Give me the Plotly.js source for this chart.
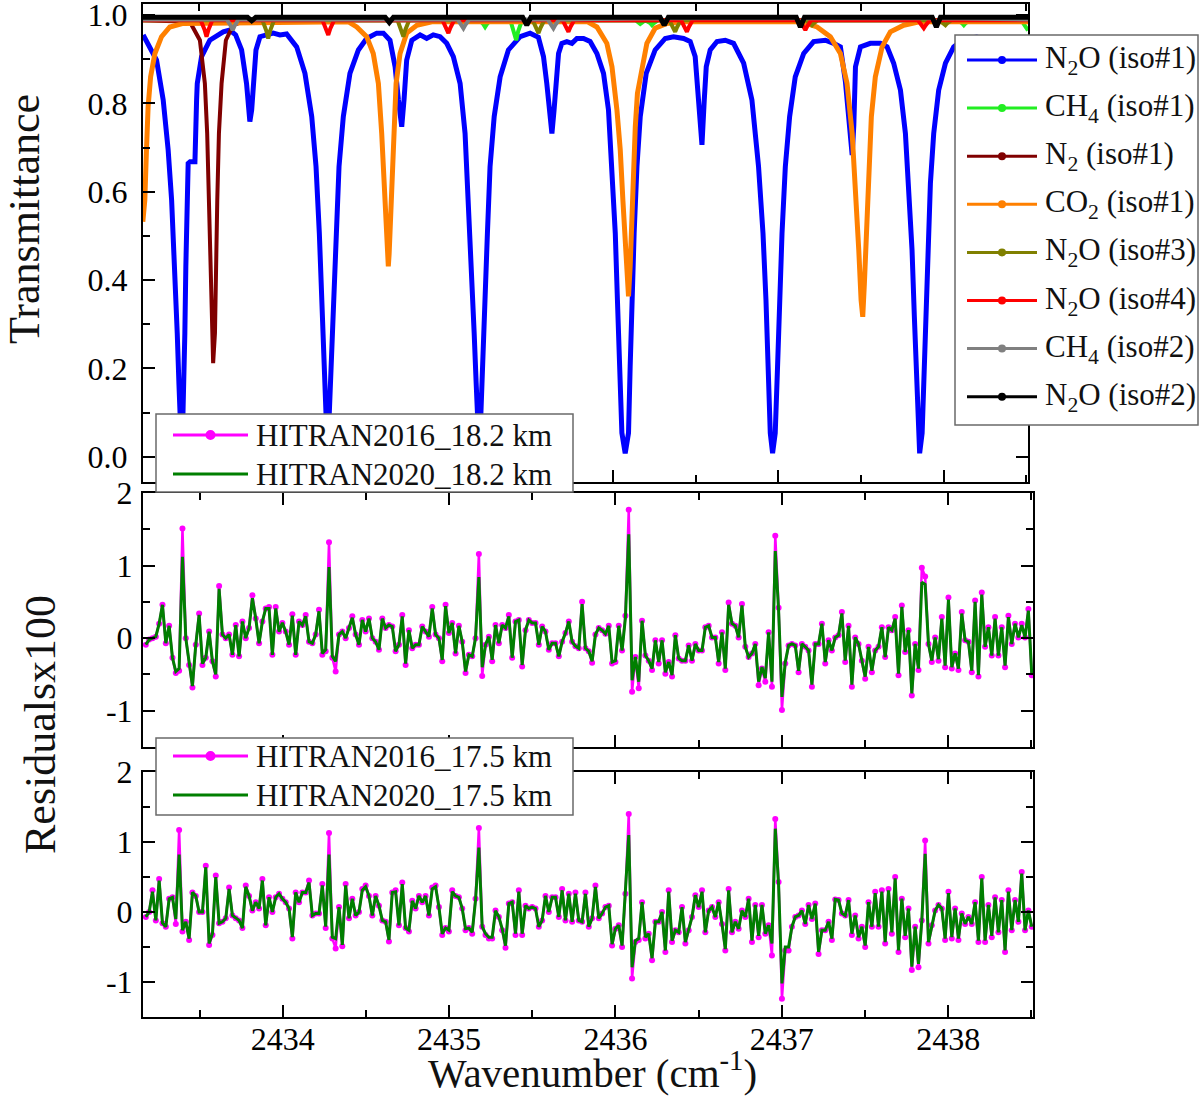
<!DOCTYPE html>
<html>
<head>
<meta charset="utf-8">
<script src="https://cdn.plot.ly/plotly-3.0.1.min.js"></script>
<style>
  html, body { margin: 0; padding: 0; background: #ffffff; }
  #chart { width: 1200px; height: 1097px; }
</style>
</head>
<body>
<div id="chart"></div>
<script>
// Transmittance of the species in the window plus the fit residuals at two
// tangent heights, HITRAN2016 vs HITRAN2020. Values.

// --- transmittance (top panel) ---------------------------------------------

const n2o1Wn = [
  2433.161, 2433.242, 2433.282, 2433.312, 2433.333, 2433.353, 2433.367, 2433.377, 2433.383, 2433.388,
  2433.393, 2433.398, 2433.403, 2433.413, 2433.419, 2433.427, 2433.433, 2433.445, 2433.474, 2433.484,
  2433.488, 2433.514, 2433.564, 2433.645, 2433.685,
  2433.72, 2433.756, 2433.786, 2433.796, 2433.806, 2433.817, 2433.826, 2433.843, 2433.867, 2433.907,
  2433.947, 2433.988, 2434.028,
  2434.089, 2434.139, 2434.180, 2434.206, 2434.226, 2434.242, 2434.254, 2434.264, 2434.270, 2434.275,
  2434.280, 2434.286, 2434.296, 2434.310, 2434.325, 2434.345, 2434.371, 2434.411, 2434.462, 2434.512,
  2434.573, 2434.613,
  2434.653, 2434.684, 2434.704, 2434.724, 2434.738, 2434.754, 2434.785, 2434.835, 2434.875, 2434.915,
  2434.956, 2434.996,
  2435.036, 2435.077, 2435.107, 2435.127, 2435.148, 2435.162, 2435.174, 2435.182, 2435.187, 2435.192,
  2435.197, 2435.202, 2435.214, 2435.228, 2435.242, 2435.258, 2435.283, 2435.319, 2435.369, 2435.440,
  2435.500, 2435.550,
  2435.581, 2435.601, 2435.617, 2435.632, 2435.645, 2435.658, 2435.672, 2435.692, 2435.722, 2435.753,
  2435.783, 2435.823, 2435.863,
  2435.904, 2435.944, 2435.974, 2435.995, 2436.015, 2436.028, 2436.041, 2436.055, 2436.075, 2436.095,
  2436.105, 2436.116, 2436.129, 2436.146, 2436.166, 2436.202, 2436.256, 2436.317, 2436.367, 2436.428,
  2436.468,
  2436.498, 2436.518, 2436.539, 2436.553, 2436.565, 2436.589, 2436.630, 2436.680, 2436.730,
  2436.791, 2436.841, 2436.881, 2436.908, 2436.926, 2436.940, 2436.952, 2436.966, 2436.982, 2436.996,
  2437.008, 2437.023, 2437.043, 2437.069, 2437.103, 2437.154, 2437.214, 2437.285, 2437.335, 2437.376,
  2437.406, 2437.426, 2437.447, 2437.457, 2437.467, 2437.497, 2437.557, 2437.618, 2437.658,
  2437.698, 2437.739, 2437.769, 2437.789, 2437.809, 2437.823, 2437.835, 2437.846, 2437.855, 2437.870,
  2437.880, 2437.890, 2437.904, 2437.920, 2437.940, 2437.970, 2438.011, 2438.061, 2438.12, 2438.20,
  2438.30, 2438.40, 2438.51,
];
const n2o1T = [
  0.955, 0.898, 0.808, 0.695, 0.581, 0.431, 0.280, 0.167, 0.099, 0.04,
  0.01, 0.04, 0.099, 0.280, 0.431, 0.581, 0.664, 0.668, 0.668, 0.808,
  0.845, 0.906, 0.943, 0.962, 0.966,
  0.955, 0.921, 0.845, 0.793, 0.759, 0.785, 0.845, 0.921, 0.951, 0.955,
  0.959, 0.955, 0.957,
  0.928, 0.868, 0.770, 0.657, 0.506, 0.355, 0.204, 0.099, 0.04, 0.01,
  0.04, 0.099, 0.204, 0.355, 0.506, 0.657, 0.770, 0.868, 0.921, 0.947,
  0.959, 0.959,
  0.943, 0.883, 0.808, 0.747, 0.808, 0.898, 0.943, 0.955, 0.947, 0.955,
  0.951, 0.936,
  0.906, 0.845, 0.732, 0.581, 0.431, 0.280, 0.167, 0.099, 0.04, 0.01,
  0.04, 0.099, 0.204, 0.355, 0.506, 0.657, 0.770, 0.860, 0.921, 0.951,
  0.959, 0.950,
  0.906, 0.845, 0.785, 0.732, 0.785, 0.860, 0.913, 0.936, 0.940, 0.936,
  0.947, 0.947, 0.940,
  0.913, 0.868, 0.785, 0.657, 0.506, 0.355, 0.204, 0.054, 0.008, 0.054,
  0.204, 0.355, 0.506, 0.657, 0.770, 0.868, 0.921, 0.947, 0.951, 0.947,
  0.940,
  0.906, 0.808, 0.706, 0.808, 0.883, 0.921, 0.940, 0.943, 0.936,
  0.891, 0.808, 0.657, 0.506, 0.355, 0.204, 0.054, 0.008, 0.054, 0.204,
  0.355, 0.506, 0.657, 0.770, 0.860, 0.913, 0.940, 0.943, 0.936, 0.928,
  0.85, 0.77, 0.683, 0.75, 0.883, 0.928, 0.936, 0.936, 0.928,
  0.891, 0.830, 0.732, 0.619, 0.468, 0.317, 0.167, 0.054, 0.008, 0.054,
  0.167, 0.317, 0.468, 0.619, 0.732, 0.830, 0.891, 0.928, 0.945, 0.95,
  0.94, 0.93, 0.92,
];

const ch4aWn = [
  2433.159, 2435.193, 2435.216, 2435.228, 2435.240, 2435.263, 2435.381, 2435.404, 2435.416, 2435.428,
  2435.451, 2436.140, 2436.166, 2436.195, 2436.225, 2436.237, 2436.249, 2436.272, 2438.087, 2438.110,
  2438.122, 2438.134, 2438.157, 2438.470, 2438.51,
];
const ch4aT = [
  0.988, 0.988, 0.980, 0.973, 0.980, 0.988, 0.988, 0.963, 0.943, 0.963,
  0.988, 0.988, 0.980, 0.988, 0.982, 0.977, 0.982, 0.988, 0.988, 0.982,
  0.977, 0.982, 0.988, 0.988, 0.965,
];

const n2Wn = [
  2433.159, 2433.443, 2433.504, 2433.534, 2433.548, 2433.560, 2433.570, 2433.578, 2433.584, 2433.595,
  2433.601, 2433.609, 2433.619, 2433.635, 2433.661, 2433.705, 2433.786, 2438.51,
];
const n2T = [
  0.988, 0.985, 0.943, 0.845, 0.732, 0.581, 0.431, 0.280, 0.212, 0.280,
  0.431, 0.581, 0.732, 0.845, 0.943, 0.977, 0.988, 0.988,
];

const co2Wn = [
  2433.159, 2433.171, 2433.181, 2433.191, 2433.206, 2433.232, 2433.272, 2433.322, 2433.403, 2434.40,
  2434.452, 2434.512, 2434.552, 2434.583, 2434.603, 2434.617, 2434.629, 2434.637, 2434.643, 2434.648,
  2434.653, 2434.664, 2434.673, 2434.690, 2434.714, 2434.754, 2434.815, 2434.913,
  2435.845, 2435.904, 2435.964, 2435.995, 2436.025, 2436.045, 2436.061, 2436.075, 2436.089, 2436.095,
  2436.105, 2436.116, 2436.125, 2436.136, 2436.149, 2436.176, 2436.206, 2436.256, 2436.327, 2436.408,
  2437.134, 2437.235, 2437.315, 2437.376, 2437.416, 2437.447, 2437.467, 2437.487, 2437.501, 2437.511,
  2437.521, 2437.533, 2437.547, 2437.563, 2437.587, 2437.628, 2437.678, 2437.759, 2437.860, 2438.51,
];
const co2T = [
  0.532, 0.581, 0.695, 0.793, 0.860, 0.913, 0.951, 0.973, 0.981, 0.985,
  0.973, 0.951, 0.913, 0.845, 0.732, 0.619, 0.506, 0.46, 0.431, 0.46,
  0.506, 0.619, 0.732, 0.845, 0.913, 0.959, 0.977, 0.985,
  0.985, 0.973, 0.936, 0.883, 0.785, 0.695, 0.581, 0.468, 0.393, 0.363,
  0.431, 0.544, 0.657, 0.747, 0.823, 0.883, 0.936, 0.970, 0.981, 0.985,
  0.985, 0.973, 0.951, 0.913, 0.845, 0.732, 0.619, 0.468, 0.355, 0.317,
  0.393, 0.506, 0.657, 0.770, 0.860, 0.928, 0.962, 0.977, 0.985, 0.985,
];

const n2o3Wn = [
  2433.159, 2433.882, 2433.905, 2433.917, 2433.929, 2433.952, 2434.699, 2434.722, 2434.734, 2434.746,
  2434.769, 2435.516, 2435.539, 2435.551, 2435.563, 2435.586, 2436.342, 2436.365, 2436.377, 2436.389,
  2436.412, 2437.169, 2437.192, 2437.204, 2437.216, 2437.239, 2437.976, 2437.999, 2438.011, 2438.023,
  2438.046, 2438.51,
];
const n2o3T = [
  0.988, 0.988, 0.965, 0.947, 0.965, 0.988, 0.988, 0.967, 0.951, 0.967,
  0.988, 0.988, 0.971, 0.959, 0.971, 0.988, 0.988, 0.973, 0.962, 0.973,
  0.988, 0.988, 0.982, 0.977, 0.982, 0.988, 0.988, 0.982, 0.977, 0.982,
  0.988, 0.988,
];

const n2o4Wn = [
  2433.159, 2433.509, 2433.532, 2433.544, 2433.556, 2433.579, 2434.245, 2434.268, 2434.280, 2434.292,
  2434.315, 2434.971, 2434.994, 2435.006, 2435.018, 2435.041, 2435.697, 2435.720, 2435.732, 2435.744,
  2435.767, 2436.413, 2436.436, 2436.448, 2436.460, 2436.483, 2437.129, 2437.152, 2437.164, 2437.176,
  2437.199, 2437.845, 2437.868, 2437.880, 2437.892, 2437.915, 2438.51,
];
const n2o4T = [
  0.988, 0.988, 0.967, 0.951, 0.967, 0.988, 0.988, 0.969, 0.955, 0.969,
  0.988, 0.988, 0.971, 0.959, 0.971, 0.988, 0.988, 0.973, 0.962, 0.973,
  0.988, 0.988, 0.973, 0.962, 0.973, 0.988, 0.988, 0.975, 0.966, 0.975,
  0.988, 0.988, 0.977, 0.970, 0.977, 0.988, 0.988,
];

const ch4bWn = [
  2433.159, 2433.667, 2433.690, 2433.702, 2433.714, 2433.737, 2435.062, 2435.085, 2435.097, 2435.109,
  2435.132, 2435.606, 2435.629, 2435.641, 2435.653, 2435.676, 2436.286, 2436.311, 2436.336, 2437.109,
  2437.134, 2437.159, 2437.931, 2437.956, 2437.981, 2438.51,
];
const ch4bT = [
  0.990, 0.990, 0.976, 0.966, 0.976, 0.990, 0.990, 0.978, 0.970, 0.978,
  0.990, 0.990, 0.978, 0.970, 0.978, 0.990, 0.993, 0.983, 0.993, 0.993,
  0.983, 0.993, 0.993, 0.983, 0.993, 0.990,
];

const n2o2Wn = [
  2433.159, 2433.792, 2433.817, 2433.842, 2434.624, 2434.649, 2434.674, 2435.455, 2435.480, 2435.505,
  2436.286, 2436.311, 2436.336, 2437.109, 2437.134, 2437.159, 2437.931, 2437.956, 2437.981, 2438.51,
];
const n2o2T = [
  0.995, 0.995, 0.987, 0.995, 0.995, 0.983, 0.995, 0.995, 0.977, 0.995,
  0.995, 0.977, 0.995, 0.995, 0.973, 0.995, 0.995, 0.973, 0.995, 0.995,
];

const speciesNames = [
  'N<sub>2</sub>O (iso#1)', 'CH<sub>4</sub> (iso#1)', 'N<sub>2</sub> (iso#1)', 'CO<sub>2</sub> (iso#1)',
  'N<sub>2</sub>O (iso#3)', 'N<sub>2</sub>O (iso#4)', 'CH<sub>4</sub> (iso#2)', 'N<sub>2</sub>O (iso#2)',
];
const speciesWn = [n2o1Wn, ch4aWn, n2Wn, co2Wn, n2o3Wn, n2o4Wn, ch4bWn, n2o2Wn];
const speciesT = [n2o1T, ch4aT, n2T, co2T, n2o3T, n2o4T, ch4bT, n2o2T];

// --- residuals x100 (two lower panels), on the spectral grid ---------------

const RES_X0 = 2433.177;
const RES_DX = 0.02002;

const res2016_182 = [
  -0.09, -0.02, 0.0, 0.02, 0.2, 0.46, -0.07, 0.17, -0.27, -0.48,
  -0.45, 1.51, 0.0, -0.37, -0.68, -0.09, 0.34, -0.37, -0.27, 0.09,
  -0.32, -0.53, 0.72, 0.05, 0.0, 0.05, -0.23, 0.18, -0.25, 0.23,
  0.0, 0.14, 0.59, 0.27, -0.07, 0.23, 0.41, 0.43, -0.23, 0.43,
  0.09, 0.21, 0.09, -0.09, 0.33, -0.23, 0.23, 0.18, 0.32, -0.05,
  -0.07, 0.05, 0.39, -0.23, -0.18, 1.32, -0.27, -0.46, 0.05, 0.09,
  0.0, 0.14, 0.30, 0.05, -0.09, 0.25, 0.09, 0.27, 0.0, -0.05,
  -0.16, 0.27, 0.14, 0.18, 0.16, -0.18, -0.09, 0.32, -0.37, 0.11,
  -0.14, -0.09, -0.09, 0.16, 0.09, 0.02, 0.43, 0.05, 0.0, -0.32,
  0.46, 0.07, 0.21, -0.21, 0.17, -0.05, -0.48, -0.23, -0.25, 0.0,
  1.16, -0.52, -0.09, 0.02, -0.32, 0.18, -0.07, 0.18, 0.14, 0.32,
  -0.27, 0.23, 0.25, -0.39, 0.11, 0.25, 0.21, 0.21, -0.09, 0.16,
  0.09, -0.16, -0.07, -0.07, -0.25, -0.05, 0.07, 0.23, -0.05, -0.11,
  -0.14, 0.50, -0.14, -0.18, -0.34, 0.05, 0.14, 0.11, 0.06, 0.17,
  -0.35, -0.33, 0.17, -0.17, 0.31, 1.77, -0.74, -0.26, -0.69, 0.24,
  -0.24, -0.31, -0.44, -0.03, -0.35, -0.03, -0.49, -0.33, -0.53, 0.04,
  -0.28, -0.31, -0.31, -0.10, -0.31, -0.08, -0.17, -0.17, 0.15, 0.17,
  0.01, 0.01, -0.35, 0.08, -0.44, 0.49, 0.20, 0.17, 0.01, 0.47,
  -0.12, -0.26, -0.21, -0.08, -0.65, -0.42, -0.60, 0.08, -0.67, 1.41,
  0.42, -0.99, -0.35, -0.10, -0.08, -0.10, -0.47, -0.08, -0.12, -0.17,
  -0.67, -0.08, -0.08, 0.20, -0.35, -0.03, -0.17, 0.01, 0.04, 0.36,
  -0.33, 0.17, -0.67, 0.01, -0.08, -0.31, -0.56, -0.12, -0.47, -0.17,
  -0.12, 0.15, -0.26, 0.15, 0.11, 0.29, -0.51, 0.45, -0.19, 0.11,
  -0.79, -0.08, -0.44, 0.97, 0.85, -0.08, -0.33, 0.01, -0.31, 0.29,
  -0.40, 0.56, -0.42, -0.21, -0.44, 0.36, -0.03, -0.05, -0.47, 0.52,
  -0.53, 0.63, -0.12, 0.15, -0.24, 0.29, -0.24, 0.15, -0.40, 0.31,
  -0.08, 0.20, 0.01, 0.20, 0.01, 0.40, -0.51,
];
const res2020_182 = [
  -0.09, -0.02, 0.0, 0.02, 0.2, 0.46, -0.07, 0.17, -0.27, -0.46,
  -0.42, 1.12, 0.0, -0.35, -0.66, -0.09, 0.32, -0.35, -0.27, 0.09,
  -0.32, -0.50, 0.68, 0.05, 0.0, 0.05, -0.23, 0.18, -0.25, 0.23,
  0.0, 0.14, 0.55, 0.27, -0.07, 0.23, 0.41, 0.41, -0.23, 0.41,
  0.09, 0.21, 0.09, -0.09, 0.31, -0.23, 0.23, 0.18, 0.30, -0.05,
  -0.07, 0.05, 0.37, -0.21, -0.16, 0.98, -0.25, -0.32, 0.05, 0.09,
  0.0, 0.14, 0.28, 0.05, -0.09, 0.25, 0.09, 0.27, 0.0, -0.05,
  -0.16, 0.27, 0.14, 0.18, 0.16, -0.18, -0.09, 0.30, -0.35, 0.11,
  -0.14, -0.09, -0.09, 0.16, 0.09, 0.02, 0.41, 0.05, 0.0, -0.30,
  0.44, 0.07, 0.21, -0.21, 0.17, -0.05, -0.46, -0.23, -0.25, 0.0,
  0.84, -0.40, -0.09, 0.02, -0.30, 0.18, -0.07, 0.18, 0.14, 0.30,
  -0.27, 0.23, 0.25, -0.37, 0.11, 0.25, 0.21, 0.21, -0.09, 0.16,
  0.09, -0.16, -0.07, -0.07, -0.25, -0.05, 0.07, 0.23, -0.05, -0.11,
  -0.14, 0.47, -0.14, -0.18, -0.32, 0.05, 0.14, 0.11, 0.06, 0.17,
  -0.33, -0.31, 0.17, -0.17, 0.28, 1.43, -0.58, -0.26, -0.60, 0.24,
  -0.24, -0.31, -0.42, -0.03, -0.33, -0.03, -0.47, -0.33, -0.51, 0.04,
  -0.28, -0.31, -0.31, -0.10, -0.31, -0.08, -0.17, -0.17, 0.15, 0.17,
  0.01, 0.01, -0.33, 0.08, -0.42, 0.46, 0.20, 0.17, 0.01, 0.45,
  -0.12, -0.26, -0.21, -0.08, -0.60, -0.40, -0.55, 0.08, -0.60, 1.20,
  0.38, -0.81, -0.33, -0.10, -0.08, -0.10, -0.45, -0.08, -0.12, -0.17,
  -0.64, -0.08, -0.08, 0.20, -0.33, -0.03, -0.17, 0.01, 0.04, 0.34,
  -0.31, 0.17, -0.64, 0.01, -0.08, -0.31, -0.53, -0.12, -0.45, -0.17,
  -0.12, 0.15, -0.26, 0.15, 0.11, 0.27, -0.49, 0.43, -0.19, 0.11,
  -0.76, -0.08, -0.42, 0.77, 0.74, -0.08, -0.31, 0.01, -0.29, 0.27,
  -0.38, 0.53, -0.40, -0.21, -0.42, 0.34, -0.03, -0.05, -0.45, 0.50,
  -0.51, 0.60, -0.12, 0.15, -0.24, 0.27, -0.24, 0.15, -0.38, 0.29,
  -0.08, 0.20, 0.01, 0.18, 0.01, 0.38, -0.49,
];

const res2016_175 = [
  -0.07, 0.0, 0.31, -0.12, 0.47, -0.16, -0.21, 0.19, 0.21, -0.17,
  1.17, -0.28, -0.14, -0.40, 0.28, 0.23, 0.0, 0.0, 0.66, -0.47,
  -0.33, 0.52, -0.16, -0.14, -0.09, 0.35, -0.05, -0.09, -0.12, -0.23,
  0.38, 0.23, 0.02, 0.14, 0.05, 0.47, -0.19, 0.21, 0.0, 0.21,
  0.26, 0.19, 0.14, 0.05, -0.38, 0.28, 0.14, 0.28, 0.28, 0.45,
  -0.05, -0.02, -0.02, 0.40, -0.23, 1.13, -0.38, -0.52, 0.07, -0.49,
  0.40, -0.09, 0.19, -0.05, 0.0, 0.33, 0.38, 0.23, -0.05, 0.23,
  0.09, -0.12, -0.14, -0.42, 0.28, 0.31, -0.19, 0.42, -0.23, -0.28,
  0.16, 0.05, 0.23, 0.14, 0.23, -0.05, 0.35, 0.38, 0.07, -0.33,
  -0.23, -0.28, 0.31, 0.23, 0.21, 0.05, -0.26, -0.23, -0.31, 0.19,
  1.20, -0.21, -0.33, -0.38, -0.38, 0.02, -0.07, -0.26, -0.51, 0.12,
  0.14, -0.33, 0.31, -0.33, 0.09, 0.05, 0.07, 0.05, -0.21, -0.12,
  0.23, 0.0, 0.21, 0.21, -0.07, 0.33, -0.12, 0.26, -0.14, 0.28,
  -0.12, -0.14, 0.28, -0.21, -0.09, 0.38, -0.09, -0.02, 0.07, 0.09,
  -0.48, -0.24, -0.19, -0.50, 0.26, 1.40, -0.95, -0.43, -0.40, 0.14,
  -0.38, -0.31, -0.69, -0.14, -0.14, 0.0, -0.57, 0.31, -0.43, -0.26,
  -0.29, 0.07, -0.45, -0.26, -0.07, 0.24, 0.07, 0.31, -0.29, 0.02,
  0.07, -0.07, 0.14, -0.17, -0.55, 0.33, -0.29, -0.14, -0.24, 0.02,
  -0.07, 0.19, -0.43, 0.10, -0.36, 0.10, -0.31, -0.19, -0.62, 1.33,
  0.43, -1.24, -0.55, -0.55, -0.21, -0.07, -0.05, 0.02, -0.17, 0.10,
  -0.10, 0.12, -0.60, -0.26, -0.26, -0.14, -0.40, 0.18, 0.17, -0.02,
  -0.05, 0.17, -0.33, -0.05, -0.38, -0.21, -0.50, 0.14, -0.21, 0.29,
  -0.21, 0.31, -0.45, 0.33, -0.31, 0.50, -0.57, 0.19, -0.36, 0.05,
  -0.83, -0.21, -0.79, -0.12, 1.02, -0.45, -0.19, 0.02, 0.10, 0.05,
  -0.40, 0.29, -0.38, 0.05, -0.40, -0.02, -0.17, -0.07, -0.17, 0.14,
  -0.43, 0.50, -0.43, 0.10, -0.36, 0.21, -0.29, 0.17, -0.57, 0.31,
  -0.26, 0.17, -0.14, 0.57, -0.26, 0.02, -0.21,
];
const res2020_175 = [
  -0.07, 0.0, 0.29, -0.12, 0.45, -0.16, -0.21, 0.19, 0.21, -0.10,
  0.82, -0.26, -0.14, -0.38, 0.28, 0.23, 0.0, 0.0, 0.64, -0.45,
  -0.31, 0.50, -0.16, -0.14, -0.09, 0.33, -0.05, -0.09, -0.12, -0.23,
  0.36, 0.23, 0.02, 0.14, 0.05, 0.45, -0.19, 0.21, 0.0, 0.21,
  0.26, 0.19, 0.14, 0.05, -0.36, 0.28, 0.14, 0.28, 0.28, 0.42,
  -0.05, -0.02, -0.02, 0.38, -0.21, 0.82, -0.36, -0.38, 0.07, -0.47,
  0.38, -0.09, 0.19, -0.05, 0.0, 0.31, 0.36, 0.23, -0.05, 0.23,
  0.09, -0.12, -0.14, -0.40, 0.28, 0.29, -0.19, 0.40, -0.23, -0.26,
  0.16, 0.05, 0.23, 0.14, 0.23, -0.05, 0.33, 0.36, 0.07, -0.31,
  -0.23, -0.26, 0.29, 0.23, 0.21, 0.05, -0.24, -0.23, -0.29, 0.17,
  0.92, -0.21, -0.31, -0.36, -0.36, 0.02, -0.07, -0.24, -0.48, 0.12,
  0.14, -0.31, 0.29, -0.31, 0.09, 0.05, 0.07, 0.05, -0.21, -0.12,
  0.23, 0.0, 0.21, 0.21, -0.07, 0.31, -0.12, 0.26, -0.14, 0.26,
  -0.12, -0.14, 0.26, -0.21, -0.09, 0.36, -0.09, -0.02, 0.07, 0.09,
  -0.46, -0.24, -0.19, -0.48, 0.24, 1.10, -0.79, -0.41, -0.38, 0.14,
  -0.36, -0.31, -0.66, -0.14, -0.14, 0.0, -0.55, 0.29, -0.41, -0.26,
  -0.29, 0.07, -0.43, -0.26, -0.07, 0.24, 0.07, 0.29, -0.29, 0.02,
  0.07, -0.07, 0.14, -0.17, -0.53, 0.31, -0.29, -0.14, -0.24, 0.02,
  -0.07, 0.19, -0.41, 0.10, -0.34, 0.10, -0.31, -0.19, -0.45, 1.19,
  0.38, -1.02, -0.50, -0.50, -0.21, -0.07, -0.05, 0.02, -0.17, 0.10,
  -0.10, 0.12, -0.57, -0.26, -0.26, -0.14, -0.38, 0.18, 0.17, -0.02,
  -0.05, 0.17, -0.31, -0.05, -0.36, -0.21, -0.48, 0.14, -0.21, 0.27,
  -0.21, 0.29, -0.43, 0.31, -0.29, 0.48, -0.55, 0.19, -0.34, 0.05,
  -0.78, -0.21, -0.74, -0.12, 0.83, -0.43, -0.19, 0.02, 0.10, 0.05,
  -0.38, 0.27, -0.36, 0.05, -0.38, -0.02, -0.17, -0.07, -0.17, 0.14,
  -0.41, 0.48, -0.41, 0.10, -0.34, 0.21, -0.29, 0.17, -0.55, 0.29,
  -0.26, 0.17, -0.14, 0.55, -0.26, 0.02, -0.21,
];

const residualNames182 = ['HITRAN2016_18.2 km', 'HITRAN2020_18.2 km'];
const residualNames175 = ['HITRAN2016_17.5 km', 'HITRAN2020_17.5 km'];

// --- styling -------------------------------------------------------------

const W = 1200;
const H = 1097;
const FONT = 'Liberation Serif, Times New Roman, serif';

const SPECIES_COLORS = ['#0000ff', '#22ee22', '#800000', '#ff8000', '#808000', '#ff0000', '#808080', '#000000'];
const SPECIES_WIDTHS = [5, 4, 4, 5, 4, 4, 4, 5];
const HITRAN16 = '#ff00ff';
const HITRAN20 = '#007f00';

// pixel -> paper
const px = (x) => x / W;
const py = (y) => 1 - y / H;

const X_RANGE = [2433.16, 2438.51];

function xAxis(domainRight, showLabels, anchor) {
  return {
    domain: [px(143), px(domainRight)],
    anchor,
    range: X_RANGE,
    tick0: 2434,
    dtick: 1,
    ticks: 'inside',
    ticklen: 12,
    tickwidth: 2,
    tickcolor: '#000',
    minor: { ticks: 'inside', ticklen: 7, tickwidth: 2, tickcolor: '#000', dtick: 0.5, tick0: 2434 },
    showline: true,
    linecolor: '#000',
    linewidth: 2,
    mirror: 'ticks',
    showgrid: false,
    zeroline: false,
    showticklabels: showLabels,
    ticklabelstandoff: -7,
    tickfont: { family: FONT, size: 32, color: '#000' },
  };
}

function residualYAxis(top, bottom, anchor) {
  return {
    domain: [py(bottom), py(top)],
    anchor,
    range: [-1.5, 2],
    tickmode: 'array',
    tickvals: [-1, 0, 1, 2],
    ticktext: ['-1', '0', '1', '2'],
    ticks: 'inside',
    ticklen: 12,
    tickwidth: 2,
    tickcolor: '#000',
    minor: {
      ticks: 'inside', ticklen: 7, tickwidth: 2, tickcolor: '#000',
      tickmode: 'array', tickvals: [-1.5, -0.5, 0.5, 1.5],
    },
    showline: true,
    linecolor: '#000',
    linewidth: 2,
    mirror: 'ticks',
    showgrid: false,
    zeroline: false,
    ticklabelstandoff: 2,
    ticklabeloverflow: 'allow',
    tickfont: { family: FONT, size: 32, color: '#000' },
  };
}

// --- traces --------------------------------------------------------------

const traces = [];

speciesNames.forEach((name, i) => {
  traces.push({
    x: speciesWn[i],
    y: speciesT[i],
    name,
    mode: 'lines',
    xaxis: 'x3',
    yaxis: 'y3',
    line: { color: SPECIES_COLORS[i], width: SPECIES_WIDTHS[i] },
  });
});

function residualPair(v16, v20, names, axisSuffix) {
  return [
    {
      y: v16, x0: RES_X0, dx: RES_DX, name: names[0],
      mode: 'lines+markers',
      xaxis: 'x' + axisSuffix, yaxis: 'y' + axisSuffix,
      line: { color: HITRAN16, width: 2.5 },
      marker: { color: HITRAN16, size: 6 },
    },
    {
      y: v20, x0: RES_X0, dx: RES_DX, name: names[1],
      mode: 'lines',
      xaxis: 'x' + axisSuffix, yaxis: 'y' + axisSuffix,
      line: { color: HITRAN20, width: 3 },
    },
  ];
}

traces.push(...residualPair(res2016_182, res2020_182, residualNames182, '2'));
traces.push(...residualPair(res2016_175, res2020_175, residualNames175, ''));

// --- hand-drawn legends (Origin style: long sample line, dot in the middle) --

const shapes = [];
const annotations = [];

function legendBox(x0, y0, x1, y1) {
  shapes.push({
    type: 'rect', xref: 'paper', yref: 'paper', layer: 'above',
    x0: px(x0), x1: px(x1), y0: py(y1), y1: py(y0),
    fillcolor: '#ffffff', line: { color: '#6a6a6a', width: 1.5 },
  });
}

function legendRow(yc, lineX0, lineX1, textX, color, width, dot, label) {
  shapes.push({
    type: 'line', xref: 'paper', yref: 'paper', layer: 'above',
    x0: px(lineX0), x1: px(lineX1), y0: py(yc), y1: py(yc),
    line: { color, width },
  });
  if (dot) {
    const xm = (lineX0 + lineX1) / 2;
    shapes.push({
      type: 'circle', xref: 'paper', yref: 'paper', layer: 'above',
      x0: px(xm - dot), x1: px(xm + dot), y0: py(yc + dot), y1: py(yc - dot),
      fillcolor: color, line: { color, width: 0 },
    });
  }
  annotations.push({
    xref: 'paper', yref: 'paper', x: px(textX), y: py(yc),
    xanchor: 'left', yanchor: 'middle', showarrow: false,
    text: label, font: { family: FONT, size: 31, color: '#111' },
  });
}

legendBox(955, 35, 1198, 425);
speciesNames.forEach((name, i) => {
  legendRow(60 + i * 48.1, 967, 1037, 1043, SPECIES_COLORS[i], 3, 4, name);
});

legendBox(156, 414, 573, 492);
legendRow(435, 173, 248, 254, HITRAN16, 3, 5, residualNames182[0]);
legendRow(474, 173, 248, 254, HITRAN20, 3, 0, residualNames182[1]);

legendBox(156, 738, 573, 815);
legendRow(756, 173, 248, 254, HITRAN16, 3, 5, residualNames175[0]);
legendRow(795, 173, 248, 254, HITRAN20, 3, 0, residualNames175[1]);

// axis titles
const titleFont = { family: FONT, size: 44, color: '#111' };
const titleBase = { xref: 'paper', yref: 'paper', xanchor: 'center', yanchor: 'middle', showarrow: false, font: titleFont };
annotations.push(
  { ...titleBase, x: px(24), y: py(219), textangle: -90, text: 'Transmittance' },
  { ...titleBase, x: px(40), y: py(725), textangle: -90, text: 'Residualsx100' },
  { ...titleBase, x: px(592), y: py(1070), font: { ...titleFont, size: 41 },
    text: 'Wavenumber (cm<sup>-1</sup>)' },
);

// --- layout --------------------------------------------------------------

const layout = {
  width: W,
  height: H,
  margin: { l: 0, r: 0, t: 0, b: 0 },
  paper_bgcolor: '#ffffff',
  plot_bgcolor: '#ffffff',
  showlegend: false,
  font: { family: FONT, color: '#000' },
  xaxis: xAxis(1033, true, 'y'),
  yaxis: residualYAxis(772, 1017, 'x'),
  xaxis2: xAxis(1033, false, 'y2'),
  yaxis2: residualYAxis(493, 747, 'x2'),
  xaxis3: xAxis(1028, false, 'y3'),
  yaxis3: {
    domain: [py(482), py(4)],
    anchor: 'x3',
    range: [-0.057, 1.025],
    tick0: 0,
    dtick: 0.2,
    tickformat: '.1f',
    ticks: 'inside',
    ticklen: 12,
    tickwidth: 2,
    tickcolor: '#000',
    minor: { ticks: 'inside', ticklen: 7, tickwidth: 2, tickcolor: '#000', dtick: 0.1, tick0: 0 },
    showline: true,
    linecolor: '#000',
    linewidth: 2,
    mirror: 'ticks',
    showgrid: false,
    zeroline: false,
    ticklabelstandoff: 7,
    ticklabeloverflow: 'allow',
    tickfont: { family: FONT, size: 32, color: '#000' },
  },
  shapes,
  annotations,
};

Plotly.newPlot('chart', traces, layout, { displayModeBar: false, staticPlot: true });
</script>
</body>
</html>
